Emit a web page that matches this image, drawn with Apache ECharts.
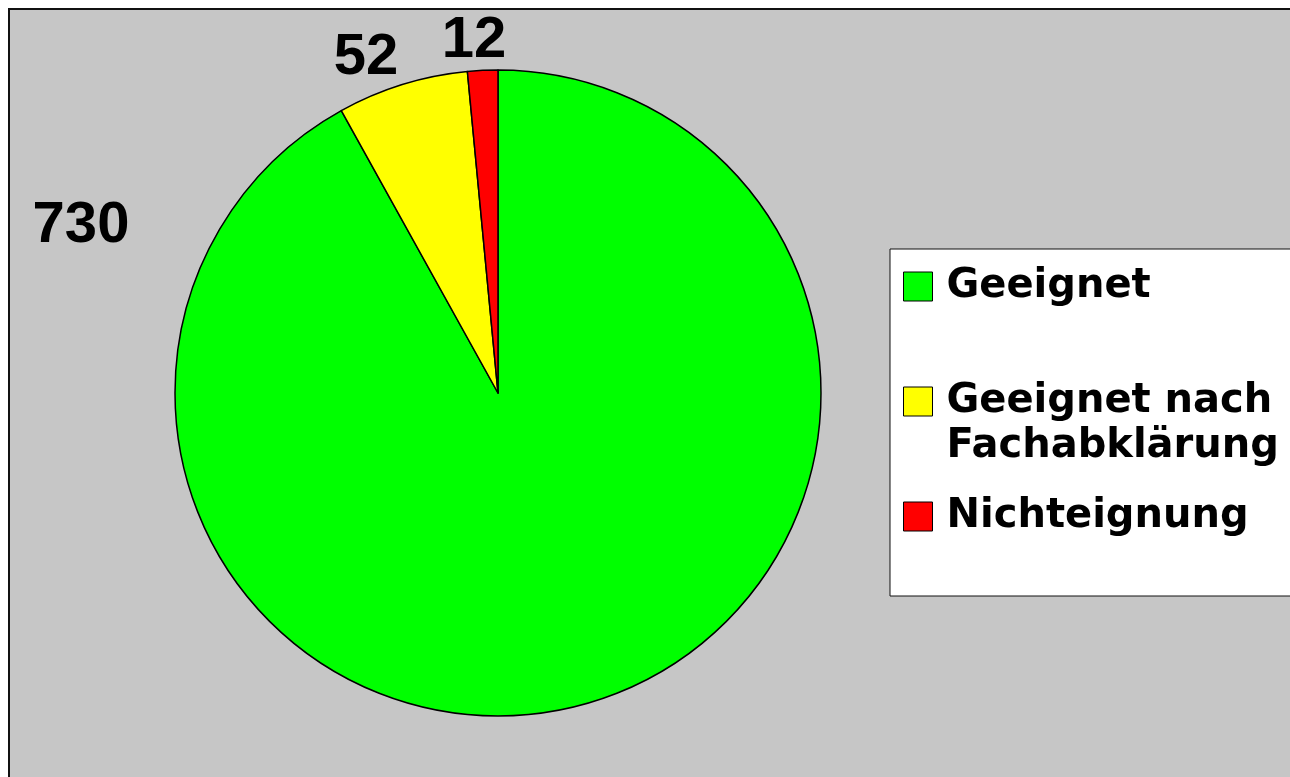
<!DOCTYPE html>
<html>
<head>
<meta charset="utf-8">
<script src="https://cdn.jsdelivr.net/npm/echarts@6/dist/echarts.min.js"></script>
<style>
  html, body { margin: 0; padding: 0; background: #ffffff; }
  #chart { width: 1290px; height: 777px; }
</style>
</head>
<body>
<div id="chart"></div>
<script>
// Assessment results
const categories = ['Geeignet', 'Geeignet nach Fachabklärung', 'Nichteignung'];
const values = [730, 52, 12];
const colors = ['#00ff00', '#ffff00', '#ff0000'];

// Where each value label sits (x, y in px)
const labelPos = [[81, 226], [366, 58], [474, 41]];

const chart = echarts.init(document.getElementById('chart'), null, { renderer: 'canvas' });

chart.setOption({
  animation: false,
  backgroundColor: '#ffffff',
  graphic: [{
    type: 'rect',
    z: -10,
    silent: true,
    shape: { x: 9, y: 9, width: 1400, height: 900 },
    style: { fill: '#c6c6c6', stroke: '#111111', lineWidth: 2 }
  }],
  legend: {
    orient: 'vertical',
    left: 890,
    top: 249,
    padding: [15, 60, 57, 13],
    backgroundColor: '#ffffff',
    borderColor: '#111111',
    borderWidth: 1,
    borderRadius: 0,
    itemGap: 25,
    itemWidth: 29,
    itemHeight: 29,
    icon: 'rect',
    selectedMode: false,
    itemStyle: { borderColor: '#000000', borderWidth: 1 },
    // Two-line entry: a blank leading line keeps the icon level with the first line
    formatter: function (name) {
      return name.indexOf(' nach ') > -1 ? '\n' + name.replace(' nach ', ' nach\n') : name;
    },
    textStyle: {
      fontFamily: 'DejaVu Sans',
      fontWeight: 'bold',
      fontSize: 40,
      lineHeight: 45,
      color: '#000000',
      padding: [0, 0, 0, 9]
    },
    data: categories
  },
  series: [{
    type: 'pie',
    center: [498, 393],
    radius: 323,
    startAngle: 90,
    clockwise: true,
    silent: true,
    emphasis: { disabled: true },
    itemStyle: { borderColor: '#000000', borderWidth: 1.5 },
    label: {
      show: true,
      position: 'outside',
      formatter: '{c}',
      fontFamily: 'Liberation Sans',
      fontWeight: 'bold',
      fontSize: 58,
      color: '#000000'
    },
    labelLine: { show: false },
    labelLayout: function (params) {
      const p = labelPos[params.dataIndex];
      return { x: p[0], y: p[1], align: 'center', verticalAlign: 'middle' };
    },
    data: categories.map(function (name, i) {
      return { name: name, value: values[i], itemStyle: { color: colors[i] } };
    })
  }]
});
</script>
</body>
</html>
